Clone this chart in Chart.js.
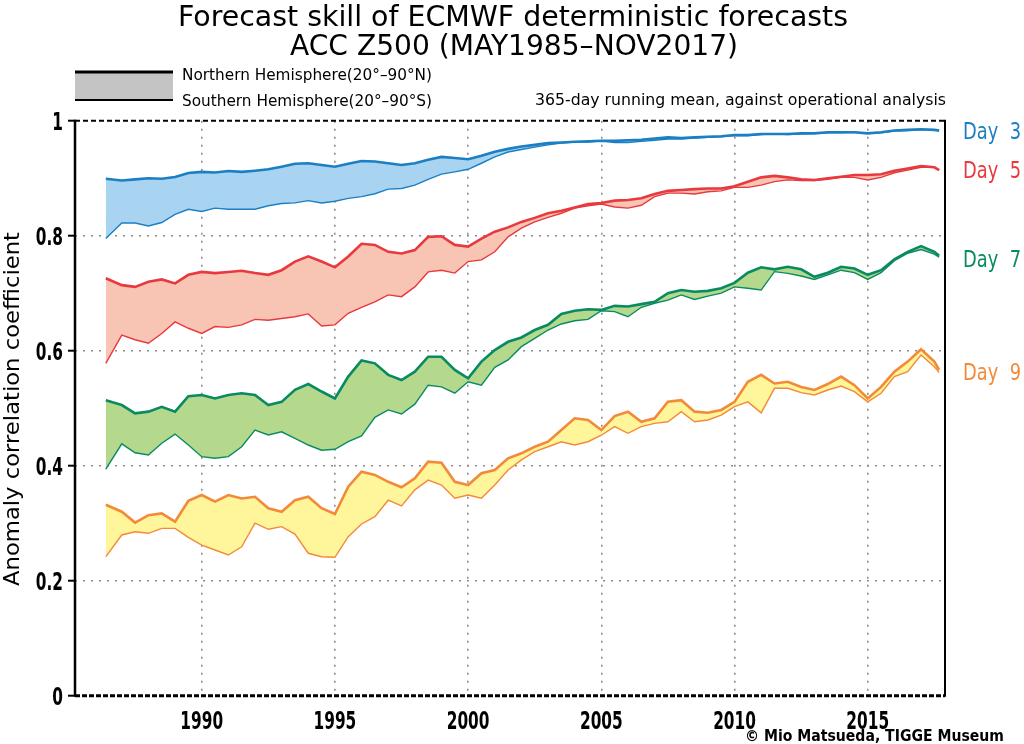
<!DOCTYPE html>
<html>
<head>
<meta charset="utf-8">
<title>Forecast skill of ECMWF deterministic forecasts</title>
<script src="https://cdn.jsdelivr.net/npm/chart.js@4.4.1/dist/chart.umd.min.js"></script>
<style>
    html, body { margin: 0; padding: 0; background: #fff; }
    #wrap { width: 1024px; height: 744px; }
</style>
</head>
<body>
<div id="wrap"><canvas id="skillChart" width="1024" height="744"></canvas></div>
<script>
// sample times (decimal years)
const years = [
    1986.4, 1987, 1987.5, 1988, 1988.5, 1989, 1989.5, 1990, 1990.5, 1991, 1991.5,
    1992, 1992.5, 1993, 1993.5, 1994, 1994.5, 1995, 1995.5, 1996, 1996.5, 1997,
    1997.5, 1998, 1998.5, 1999, 1999.5, 2000, 2000.5, 2001, 2001.5, 2002, 2002.5,
    2003, 2003.5, 2004, 2004.5, 2005, 2005.5, 2006, 2006.5, 2007, 2007.5,
    2008, 2008.5, 2009, 2009.5, 2010, 2010.5, 2011, 2011.5, 2012, 2012.5, 2013,
    2013.5, 2014, 2014.5, 2015, 2015.5, 2016, 2016.5, 2017, 2017.5, 2017.68
];

// Day 3
const day3NH = [
    0.899, 0.896, 0.898, 0.900, 0.899, 0.902, 0.909, 0.911, 0.910, 0.9125, 0.911,
    0.913, 0.9155, 0.920, 0.925, 0.926, 0.923, 0.920, 0.925, 0.930, 0.929, 0.926,
    0.923, 0.926, 0.932, 0.937, 0.935, 0.933, 0.939, 0.946, 0.951, 0.955, 0.958,
    0.961, 0.962, 0.9635, 0.964, 0.965, 0.965, 0.966, 0.967, 0.969, 0.971,
    0.970, 0.971, 0.972, 0.973, 0.975, 0.975, 0.977, 0.977, 0.977, 0.978, 0.978,
    0.980, 0.980, 0.980, 0.978, 0.980, 0.983, 0.984, 0.985, 0.984, 0.983
];
const day3SH = [
    0.795, 0.822, 0.822, 0.817, 0.823, 0.837, 0.846, 0.842, 0.848, 0.846, 0.846,
    0.846, 0.852, 0.856, 0.857, 0.861, 0.857, 0.860, 0.865, 0.868, 0.873, 0.881,
    0.882, 0.888, 0.898, 0.907, 0.911, 0.9155, 0.926, 0.937, 0.9455, 0.950, 0.954,
    0.958, 0.961, 0.963, 0.963, 0.965, 0.962, 0.962, 0.964, 0.966, 0.968,
    0.968, 0.970, 0.971, 0.972, 0.974, 0.974, 0.976, 0.977, 0.976, 0.977, 0.978,
    0.979, 0.979, 0.980, 0.978, 0.979, 0.982, 0.983, 0.984, 0.984, 0.982
];

// Day 5
const day5NH = [
    0.726, 0.714, 0.711, 0.720, 0.724, 0.717, 0.732, 0.737, 0.735, 0.737, 0.739,
    0.735, 0.732, 0.740, 0.755, 0.764, 0.755, 0.745, 0.764, 0.786, 0.784, 0.772,
    0.769, 0.775, 0.798, 0.799, 0.784, 0.781, 0.795, 0.807, 0.8145, 0.824, 0.831,
    0.839, 0.8435, 0.849, 0.855, 0.857, 0.861, 0.862, 0.865, 0.8725, 0.878,
    0.8795, 0.881, 0.882, 0.882, 0.886, 0.894, 0.9015, 0.904, 0.9015, 0.898, 0.897,
    0.900, 0.9025, 0.9055, 0.9055, 0.907, 0.913, 0.917, 0.921, 0.919, 0.914
];
const day5SH = [
    0.578, 0.627, 0.619, 0.613, 0.630, 0.650, 0.639, 0.630, 0.642, 0.6405, 0.645,
    0.6545, 0.653, 0.656, 0.659, 0.664, 0.643, 0.645, 0.665, 0.6755, 0.685, 0.697,
    0.694, 0.711, 0.737, 0.740, 0.735, 0.755, 0.758, 0.772, 0.798, 0.813, 0.824,
    0.832, 0.839, 0.848, 0.852, 0.855, 0.850, 0.848, 0.853, 0.868, 0.874,
    0.874, 0.8725, 0.8765, 0.878, 0.884, 0.884, 0.888, 0.894, 0.897, 0.896, 0.896,
    0.898, 0.9015, 0.9015, 0.897, 0.9015, 0.9095, 0.914, 0.919, 0.919, 0.914
];

// Day 7
const day7NH = [
    0.514, 0.5055, 0.491, 0.494, 0.5025, 0.494, 0.521, 0.523, 0.517, 0.523, 0.526,
    0.523, 0.5055, 0.511, 0.532, 0.542, 0.529, 0.517, 0.555, 0.583, 0.578, 0.558,
    0.549, 0.5635, 0.5895, 0.5895, 0.5665, 0.552, 0.581, 0.601, 0.6155, 0.623, 0.636,
    0.645, 0.664, 0.6695, 0.672, 0.671, 0.678, 0.677, 0.681, 0.685, 0.700,
    0.7055, 0.7025, 0.704, 0.7085, 0.718, 0.7357, 0.745, 0.7415, 0.746, 0.7415, 0.7285,
    0.7357, 0.746, 0.743, 0.732, 0.740, 0.759, 0.772, 0.782, 0.772, 0.765
];
const day7SH = [
    0.394, 0.438, 0.4225, 0.4185, 0.439, 0.455, 0.436, 0.4157, 0.413, 0.4157, 0.433,
    0.462, 0.4535, 0.459, 0.4477, 0.436, 0.427, 0.4285, 0.442, 0.4517, 0.484, 0.497,
    0.490, 0.507, 0.540, 0.537, 0.526, 0.546, 0.540, 0.571, 0.584, 0.607, 0.6215,
    0.636, 0.6465, 0.652, 0.6545, 0.6695, 0.668, 0.659, 0.6755, 0.6825, 0.688,
    0.697, 0.689, 0.695, 0.700, 0.711, 0.7085, 0.7055, 0.7375, 0.7345, 0.730, 0.724,
    0.732, 0.740, 0.7357, 0.724, 0.7357, 0.7565, 0.7695, 0.776, 0.768, 0.7625
];

// Day 9
const day9NH = [
    0.332, 0.320, 0.301, 0.314, 0.317, 0.3026, 0.339, 0.349, 0.3375, 0.349, 0.343,
    0.346, 0.326, 0.320, 0.340, 0.346, 0.326, 0.316, 0.3635, 0.3896, 0.384, 0.372,
    0.3624, 0.378, 0.407, 0.405, 0.372, 0.3664, 0.3868, 0.3925, 0.4129, 0.4215, 0.433,
    0.4417, 0.462, 0.4824, 0.4795, 0.462, 0.4864, 0.494, 0.4765, 0.4824, 0.5113,
    0.514, 0.494, 0.492, 0.497, 0.511, 0.546, 0.558, 0.543, 0.546, 0.537, 0.5317,
    0.542, 0.555, 0.540, 0.517, 0.537, 0.5635, 0.581, 0.6024, 0.581, 0.5665
];
const day9SH = [
    0.242, 0.2795, 0.285, 0.2824, 0.291, 0.291, 0.2755, 0.262, 0.2534, 0.2447, 0.259,
    0.300, 0.2894, 0.294, 0.281, 0.2477, 0.2417, 0.2407, 0.2765, 0.2986, 0.3113, 0.340,
    0.330, 0.358, 0.375, 0.3664, 0.3433, 0.349, 0.3433, 0.3664, 0.3925, 0.410, 0.4244,
    0.433, 0.4417, 0.436, 0.4417, 0.453, 0.468, 0.4563, 0.468, 0.4737, 0.4765,
    0.494, 0.4765, 0.4795, 0.488, 0.5026, 0.511, 0.492, 0.5346, 0.5346, 0.527, 0.523,
    0.5317, 0.5386, 0.5287, 0.511, 0.526, 0.555, 0.5635, 0.5925, 0.572, 0.562
];

const xTickYears = [1990, 1995, 2000, 2005, 2010, 2015];
const yTickValues = [0, 0.2, 0.4, 0.6, 0.8, 1];
const yTickLabels = ['0', '0.2', '0.4', '0.6', '0.8', '1'];
const dayLabels = ['Day 3', 'Day 5', 'Day 7', 'Day 9'];

const lineColors = ['#1b7fc3', '#e8393e', '#0a8a62', '#f28a3a'];
const fillColors = ['#a9d4f1', '#f8c4b4', '#b4d98d', '#fff59a'];

const FONT = '"DejaVu Sans", sans-serif';
const GRID = '#8c8c8c';

function toPoints(vals) {
    return vals.map((v, i) => ({ x: years[i], y: v }));
}

// draw text squeezed horizontally to a given width (the original uses a narrow stroke font)
function fitText(ctx, text, x, y, font, width, align, color) {
    ctx.save();
    ctx.font = font;
    ctx.fillStyle = color;
    ctx.textAlign = 'left';
    ctx.textBaseline = 'alphabetic';
    const sx = width / ctx.measureText(text).width;
    let x0 = x;
    if (align === 'center') x0 = x - width / 2;
    if (align === 'right') x0 = x - width;
    ctx.translate(x0, y);
    ctx.scale(sx, 1);
    ctx.fillText(text, 0, 0);
    ctx.restore();
}

function squeezeText(ctx, text, x, y, font, sx, align, color) {
    ctx.save();
    ctx.font = font;
    const w = ctx.measureText(text).width * sx;
    fitText(ctx, text, x, y, font, w, align, color);
    ctx.restore();
}

const seriesPairs = [
    [day3NH, day3SH], [day5NH, day5SH], [day7NH, day7SH], [day9NH, day9SH]
];

const datasets = [];
seriesPairs.forEach(([nh, sh], i) => {
    datasets.push({
        label: dayLabels[i] + ' NH',
        data: toPoints(nh),
        borderColor: lineColors[i],
        borderWidth: 2.6,
        pointRadius: 0,
        tension: 0,
        fill: false
    });
    datasets.push({
        label: dayLabels[i] + ' SH',
        data: toPoints(sh),
        borderColor: lineColors[i],
        borderWidth: 1.4,
        pointRadius: 0,
        tension: 0,
        fill: '-1',
        backgroundColor: fillColors[i]
    });
});

/** --- annotations drawn around the plot --- **/
const decorations = {
    id: 'decorations',
    beforeDraw(chart) {
        const ctx = chart.ctx;
        ctx.save();
        ctx.fillStyle = '#fff';
        ctx.fillRect(0, 0, chart.width, chart.height);
        ctx.restore();
    },
    afterDraw(chart) {
        const ctx = chart.ctx;
        const { left, right, top, bottom } = chart.chartArea;
        const xs = chart.scales.x, ys = chart.scales.y;

        // frame
        ctx.save();
        ctx.strokeStyle = '#000';
        ctx.lineWidth = 2;
        ctx.setLineDash([5, 3]);
        ctx.beginPath(); ctx.moveTo(left, top); ctx.lineTo(right, top); ctx.stroke();
        ctx.lineWidth = 3;
        ctx.setLineDash([5, 2]);
        ctx.beginPath(); ctx.moveTo(left, bottom); ctx.lineTo(right, bottom); ctx.stroke();
        ctx.setLineDash([]);
        ctx.lineWidth = 2.5;
        ctx.beginPath(); ctx.moveTo(left, top - 1); ctx.lineTo(left, bottom + 1); ctx.stroke();
        ctx.lineWidth = 2;
        ctx.beginPath(); ctx.moveTo(right, top - 1); ctx.lineTo(right, bottom + 1); ctx.stroke();

        // y tick marks
        ctx.lineWidth = 2;
        yTickValues.forEach(v => {
            const py = ys.getPixelForValue(v);
            ctx.beginPath(); ctx.moveTo(left - 7, py); ctx.lineTo(left, py); ctx.stroke();
        });
        ctx.restore();

        // tick labels
        yTickValues.forEach((v, i) => {
            const py = ys.getPixelForValue(v);
            squeezeText(ctx, yTickLabels[i], 63, py + 9, 'bold 24px ' + FONT, 0.64, 'right', '#000');
        });
        xTickYears.forEach(v => {
            const px = xs.getPixelForValue(v);
            squeezeText(ctx, String(v), px, 729, 'bold 24px ' + FONT, 0.64, 'center', '#000');
        });

        // y axis title
        ctx.save();
        ctx.translate(19, 409);
        ctx.rotate(-Math.PI / 2);
        fitText(ctx, 'Anomaly correlation coefficient', 0, 0, '22px ' + FONT, 354, 'center', '#000');
        ctx.restore();

        // titles
        fitText(ctx, 'Forecast skill of ECMWF deterministic forecasts', 513, 26, '29px ' + FONT, 670, 'center', '#000');
        fitText(ctx, 'ACC Z500 (MAY1985\u2013NOV2017)', 514, 55, '29px ' + FONT, 448, 'center', '#000');

        // hemisphere key
        ctx.save();
        ctx.fillStyle = '#c4c4c4';
        ctx.fillRect(75, 73, 98, 27);
        ctx.strokeStyle = '#000';
        ctx.lineWidth = 3;
        ctx.beginPath(); ctx.moveTo(75, 72); ctx.lineTo(173, 72); ctx.stroke();
        ctx.lineWidth = 2;
        ctx.beginPath(); ctx.moveTo(75, 100); ctx.lineTo(173, 100); ctx.stroke();
        ctx.restore();
        fitText(ctx, 'Northern Hemisphere(20\u00b0\u201390\u00b0N)', 182, 80, '16px ' + FONT, 250, 'left', '#000');
        fitText(ctx, 'Southern Hemisphere(20\u00b0\u201390\u00b0S)', 182, 106, '16px ' + FONT, 250, 'left', '#000');
        fitText(ctx, '365-day running mean, against operational analysis', 946, 105, '16px ' + FONT, 411, 'right', '#000');

        // day labels at the right
        const labelBaselines = [139, 178, 267, 380];
        dayLabels.forEach((t, i) => {
            fitText(ctx, t.replace(' ', '  '), 963, labelBaselines[i], '23px ' + FONT, 58, 'left', lineColors[i]);
        });

        // credit
        fitText(ctx, '\u00a9 Mio Matsueda, TIGGE Museum', 1004, 741, 'bold 16px ' + FONT, 259, 'right', '#000');
    }
};

const ctx = document.getElementById('skillChart').getContext('2d');
new Chart(ctx, {
    type: 'line',
    data: { datasets: datasets },
    options: {
        responsive: false,
        animation: false,
        devicePixelRatio: 1,
        layout: { padding: { left: 0, right: 79, top: 120.7, bottom: 0 } },
        plugins: {
            legend: { display: false },
            tooltip: { enabled: false },
            title: { display: false }
        },
        scales: {
            x: {
                type: 'linear',
                min: 1985.244,
                max: 2017.9,
                afterBuildTicks: (s) => { s.ticks = xTickYears.map(v => ({ value: v })); },
                afterFit: (s) => { s.height = 48.3; },
                ticks: { display: false },
                grid: { color: GRID, lineWidth: 1.6, drawTicks: false },
                border: { display: false, dash: [2, 6] }
            },
            y: {
                type: 'linear',
                min: 0,
                max: 1,
                afterBuildTicks: (s) => { s.ticks = yTickValues.map(v => ({ value: v })); },
                afterFit: (s) => { s.width = 75; },
                ticks: { display: false },
                grid: {
                    color: (c) => (c.tick && (c.tick.value === 0 || c.tick.value === 1)) ? 'rgba(0,0,0,0)' : GRID,
                    lineWidth: 1.6,
                    drawTicks: false
                },
                border: { display: false, dash: [2, 6] }
            }
        }
    },
    plugins: [decorations]
});
</script>
</body>
</html>
